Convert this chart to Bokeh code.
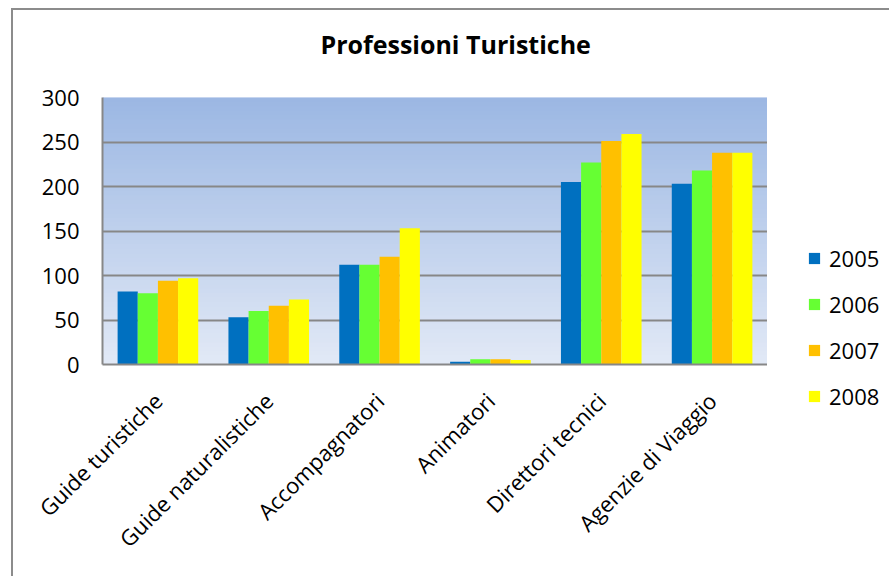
import numpy as np
from bokeh.plotting import figure
from bokeh.layouts import row
from bokeh.models import (ColumnDataSource, Range1d, FactorRange, Legend, LegendItem,
                          BoxAnnotation, Title)
from bokeh.transform import dodge
from bokeh.embed import file_html
from bokeh.resources import INLINE

categories = ["Guide turistiche", "Guide naturalistiche", "Accompagnatori",
              "Animatori", "Direttori tecnici", "Agenzie di Viaggio"]
years = ["2005", "2006", "2007", "2008"]
v2005 = [82, 53, 112, 3, 205, 203]
v2006 = [80, 60, 112, 6, 227, 218]
v2007 = [94, 66, 121, 6, 251, 238]
v2008 = [97, 73, 153, 5, 259, 238]
y_ticks = [0, 50, 100, 150, 200, 250, 300]

colors = ["#0070C0", "#66FF33", "#FFC000", "#FFFF00"]
FONT = "Open Sans"

src = ColumnDataSource(dict(cat=categories, v2005=v2005, v2006=v2006,
                            v2007=v2007, v2008=v2008))

p = figure(width=754, height=566, output_backend="svg", toolbar_location=None,
           x_range=FactorRange(*categories, range_padding=0),
           y_range=Range1d(0, 300),
           min_border_left=89, min_border_top=87, min_border_right=0,
           min_border_bottom=212)
p.title = None
p.frame_align = False
# spacer (closest to the frame) then the real title above it
p.add_layout(Title(text=" ", text_font_size="1px", standoff=34), "above")
p.add_layout(Title(text="Professioni Turistiche", text_font=FONT,
                   text_font_size="25px", text_font_style="bold",
                   text_color="#000000", align="left", offset=218,
                   standoff=0), "above")

p.background_fill_color = "#E1E8F5"
p.border_fill_color = "white"
p.outline_line_color = None

# vertical gradient background
top_c = np.array([0x9B, 0xB7, 0xE3])
bot_c = np.array([0xE2, 0xE9, 0xF6])
n = 60
edges = np.linspace(0, 300, n + 1)
for i in range(n):
    t = (i + 0.5) / n
    c = (bot_c * (1 - t) + top_c * t).round().astype(int)
    p.add_layout(BoxAnnotation(bottom=edges[i], top=edges[i + 1] + 3,
                               fill_color="#%02x%02x%02x" % tuple(c),
                               fill_alpha=1.0, line_color=None, level="image"))

w = 1 / 5.5
for k, (yr, col) in enumerate(zip(years, colors)):
    p.vbar(x=dodge("cat", (k - 1.5) * w, range=p.x_range), top="v" + yr,
           width=w, source=src, fill_color=col, line_color=None)

p.xgrid.grid_line_color = None
p.ygrid.grid_line_color = "#878787"
p.ygrid.grid_line_width = 2
p.ygrid.level = "underlay"
p.yaxis.ticker = y_ticks

for ax in (p.xaxis, p.yaxis):
    ax.axis_line_color = "#878787"
    ax.axis_line_width = 2
    ax.major_tick_line_color = None
    ax.minor_tick_line_color = None
    ax.major_label_text_font = FONT
    ax.major_label_text_color = "#000000"

p.yaxis.major_label_text_font_size = "22px"
p.yaxis.major_label_standoff = 17
p.xaxis.major_label_text_font_size = "22px"
p.xaxis.major_label_orientation = np.pi / 4
p.xaxis.major_label_standoff = 26

# legend panel to the right of the plot area
lg = figure(width=122, height=566, output_backend="svg", toolbar_location=None,
            x_range=Range1d(0, 1), y_range=Range1d(0, 1),
            x_axis_type=None, y_axis_type=None,
            min_border_left=0, min_border_right=0, min_border_top=0,
            min_border_bottom=0)
lg.title = None
lg.frame_align = False
lg.outline_line_color = None
lg.grid.grid_line_color = None
lg.background_fill_color = "white"
lg.border_fill_color = "white"
items = []
for yr, col in zip(years, colors):
    # legend swatch carriers: zero-size bars, only their legend glyph is seen
    r = lg.vbar(x=0, top=0, width=0, source=src, fill_color=col, line_color=None)
    items.append(LegendItem(label=yr, renderers=[r]))
legend = Legend(items=items, location=(40, 165))
legend.label_text_font = FONT
legend.label_text_font_size = "22px"
legend.label_text_color = "#000000"
legend.glyph_width = 14
legend.glyph_height = 14
legend.label_height = 24
legend.spacing = 16
legend.label_standoff = 8
legend.padding = 0
legend.margin = 0
legend.border_line_color = None
legend.background_fill_alpha = 0
lg.add_layout(legend, "center")

layout = row(p, lg, styles={"margin-left": "11px", "margin-top": "8px",
                            "border-left": "2px solid #8c8c8c",
                            "border-top": "2px solid #8c8c8c"})

open("out.html", "w").write(file_html(layout, INLINE))
